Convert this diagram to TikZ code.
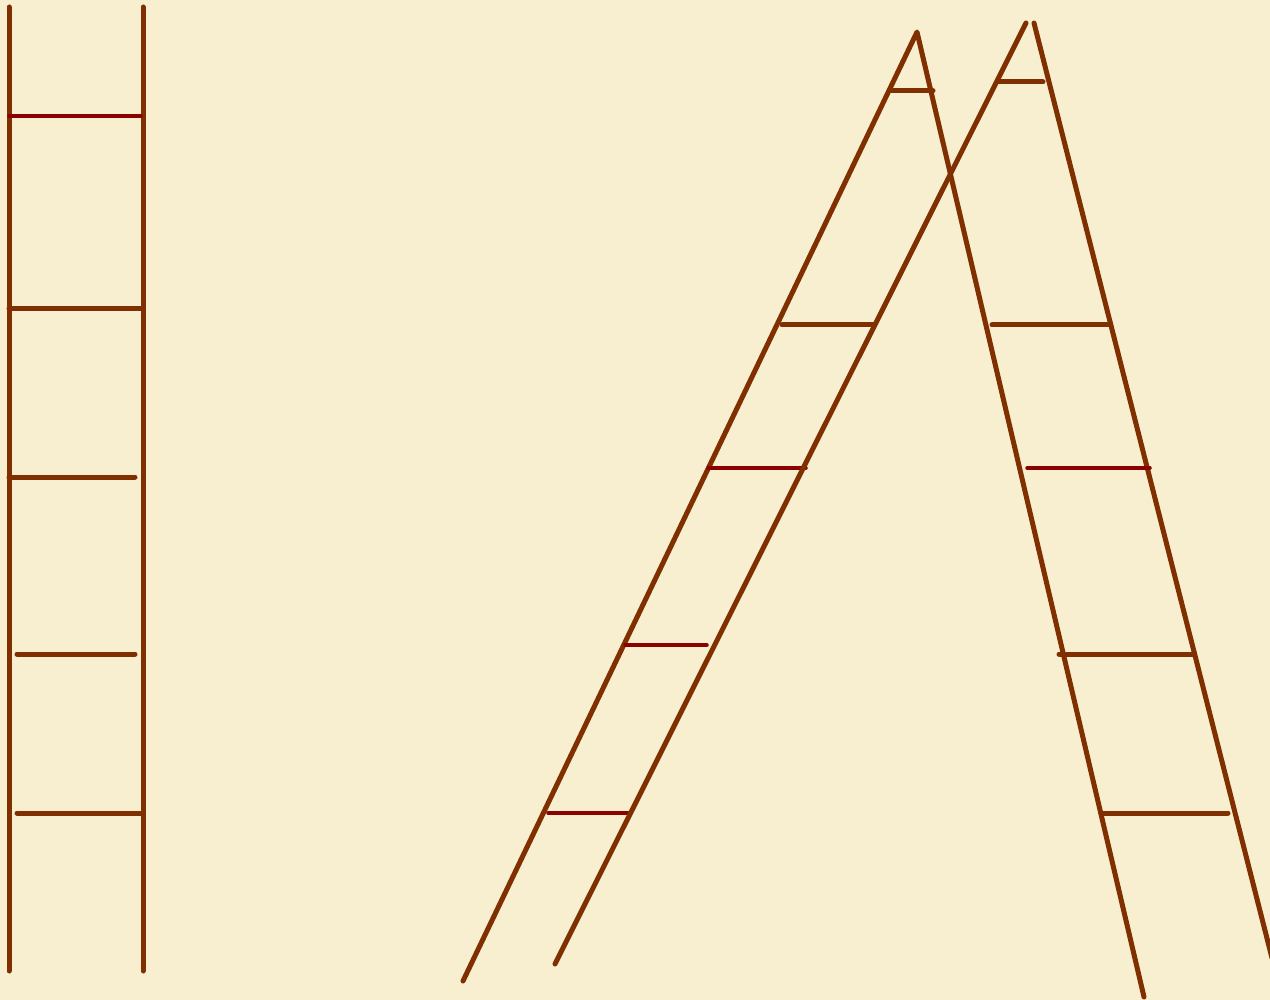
\documentclass[tikz,border=0pt]{standalone}
\definecolor{bg}{HTML}{F8EFD0}
\definecolor{wood}{HTML}{803000}
\definecolor{rung}{HTML}{8B0000}
\begin{document}
\begin{tikzpicture}[x=1pt,y=-1pt,
  rail/.style={draw=wood,line width=5pt,line cap=round,line join=round},
  brung/.style={draw=wood,line width=5pt,line cap=round},
  rrung/.style={draw=rung,line width=3.5pt,line cap=round}]
\fill[bg] (0,0) rectangle (1270,1000);
\useasboundingbox (0,0) rectangle (1270,1000);
% left ladder
\draw[rail] (9,7) -- (9,971);
\draw[rail] (143,7) -- (143,971);
\draw[rrung] (9,116) -- (141,116);
\draw[brung] (9,309) -- (141,309);
\draw[brung] (9,477) -- (135,477);
\draw[brung] (17,654) -- (135,654);
\draw[brung] (17,813) -- (141,813);
% A-frame 1
\draw[rail] (463,981) -- (917,32) -- (1144,997);
\draw[brung] (890,91) -- (933,91);
\draw[brung] (782,325) -- (873,325);
\draw[rrung] (708,468) -- (806,468);
\draw[rrung] (625,645) -- (707,645);
\draw[rrung] (548,813) -- (628,813);
% A-frame 2
\draw[rail] (555,964) -- (1026,23);
\draw[rail] (1034,23) -- (1272,958);
\draw[brung] (999,82) -- (1043,82);
\draw[brung] (992,325) -- (1109,325);
\draw[rrung] (1027,468) -- (1150,468);
\draw[brung] (1059,654) -- (1193,654);
\draw[brung] (1101,813) -- (1228,813);
\end{tikzpicture}
\end{document}
